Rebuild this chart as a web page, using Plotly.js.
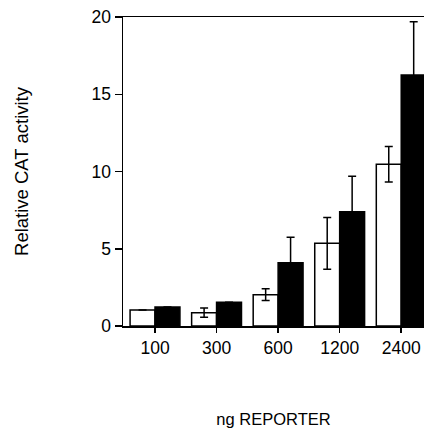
<!DOCTYPE html>
<html>
<head>
<meta charset="utf-8">
<script src="https://cdn.plot.ly/plotly-3.0.1.min.js"></script>
<style>
html,body{margin:0;padding:0;background:#fff;overflow:hidden;}
#chart{width:424px;height:429px;}
</style>
</head>
<body>
<div id="chart"></div>
<script>
const categories = ["100", "300", "600", "1200", "2400"];
const openValues = [1.03, 0.86, 2.03, 5.35, 10.47];
const openErrors = [0, 0.3, 0.38, 1.68, 1.15];
const filledValues = [1.23, 1.53, 4.1, 7.4, 16.25];
const filledErrors = [0, 0, 1.65, 2.3, 3.45];
const yTicks = [0, 5, 10, 15, 20];

const fam = "Liberation Sans, Arial, Helvetica, sans-serif";
const f = (s) => ({family: fam, size: s, color: "#000"});

const traces = [
  {
    type: "bar", x: categories, y: openValues, name: "open",
    marker: {color: "#fff", line: {color: "#000", width: 1.5}},
    error_y: {type: "data", array: openErrors, visible: true, color: "#000", thickness: 1.5, width: 4},
    hoverinfo: "skip"
  },
  {
    type: "bar", x: categories, y: filledValues, name: "filled",
    marker: {color: "#000", line: {color: "#000", width: 1.5}},
    error_y: {type: "data", array: filledErrors, visible: true, color: "#000", thickness: 1.5, width: 4},
    hoverinfo: "skip"
  }
];

const layout = {
  width: 424, height: 429,
  margin: {l: 123, r: 0, t: 17, b: 103},
  paper_bgcolor: "#fff", plot_bgcolor: "#fff",
  showlegend: false,
  barmode: "group", bargap: 0.19, bargroupgap: 0,
  font: f(17),
  xaxis: {
    type: "category",
    range: [-0.52, 4.37],
    showline: true, linecolor: "#000", linewidth: 1.5, mirror: true,
    ticks: "outside", ticklen: 5, tickwidth: 1.5, tickcolor: "#000",
    showgrid: false, zeroline: false,
    tickfont: f(17.5),
    title: {text: "ng REPORTER", font: f(16.5), standoff: 57}
  },
  yaxis: {
    range: [0, 20],
    tickvals: yTicks, ticktext: yTicks.map(String),
    showline: true, linecolor: "#000", linewidth: 1.5,
    ticks: "outside", ticklen: 7, tickwidth: 1.5, tickcolor: "#000",
    showgrid: false, zeroline: false,
    tickfont: f(17.5),
    title: {text: "Relative CAT activity", font: f(18.5), standoff: 58}
  }
};

Plotly.newPlot("chart", traces, layout, {staticPlot: true, displayModeBar: false});
</script>
</body>
</html>
